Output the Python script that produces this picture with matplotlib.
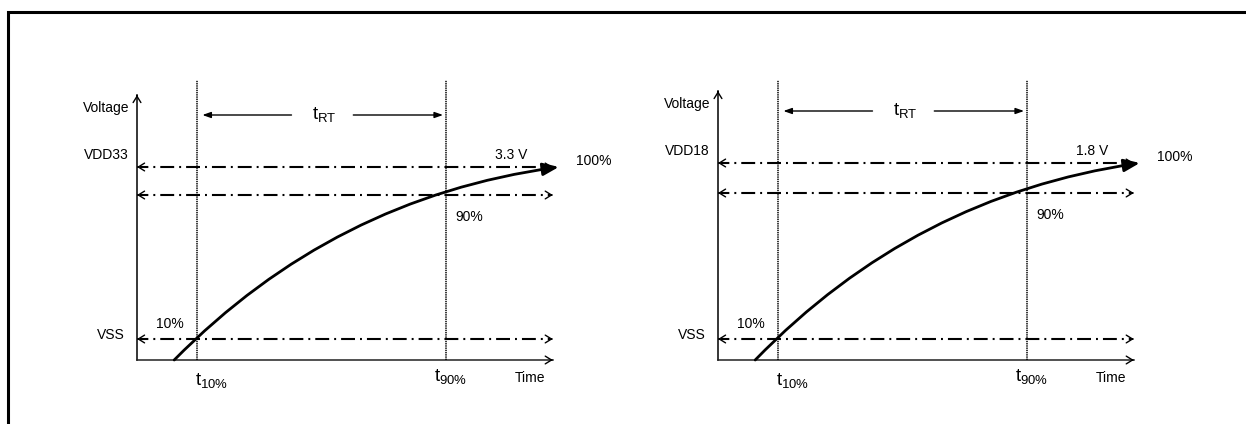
import numpy as np
import matplotlib
matplotlib.use('Agg')
import matplotlib.pyplot as plt
from matplotlib.patches import FancyArrowPatch
from matplotlib.lines import Line2D

plt.rcParams['font.family'] = ['Liberation Sans', 'DejaVu Sans']
plt.rcParams['mathtext.fontset'] = 'custom'
plt.rcParams['mathtext.rm'] = 'Liberation Sans'
plt.rcParams['mathtext.it'] = 'Liberation Sans:italic'
plt.rcParams['lines.scale_dashes'] = False

# ---- diagram values ----
RAILS = ['VDD33', 'VDD18']
RAIL_VOLTS = ['3.3 V', '1.8 V']
LEVEL_PCT = [10, 90, 100]            # VSS-side 10 %, 90 %, full rail
LEVEL_LABELS = ['10%', '90%', '100%']
T_MARKS = [1.0, 5.15]                # t10%, t90% (arbitrary time units)
T_LABELS = [r'$\mathrm{t}_{10\%}$', r'$\mathrm{t}_{90\%}$']
T_AXIS_END = 6.93
CURVE_T = [0.62, 7.03]               # rise curve: start / end time
CURVE_PCT = [0, 100]                 # rise curve: start / end level

# ---- layout (pixels) ----
W, H = 1246, 424
PX_PER_T = 60.0
PANEL_X0 = [137, 718]                               # where t = 0 sits
PANEL_LEVEL_PX = [[360, 339, 195, 167],             # 0,10,90,100 % rows
                  [360, 339, 193, 163]]
EXT_SLOPE = 1.8                                     # px per % outside knots


def make_scale(level_px):
    kp = np.array([0] + LEVEL_PCT, float)
    kx = -np.array(level_px, float)
    kp = np.r_[kp[0] - 1000, kp, kp[-1] + 1000]
    kx = np.r_[kx[0] - 1000 * EXT_SLOPE, kx, kx[-1] + 1000 * EXT_SLOPE]
    fwd = lambda p: np.interp(p, kp, kx)
    inv = lambda y: np.interp(y, kx, kp)
    return fwd, inv


def open_head(ax, x, y, dx, dy):
    ax.annotate('', xy=(x, y), xytext=(x - dx, y - dy),
                arrowprops=dict(arrowstyle='->,head_length=0.45,head_width=0.28',
                                lw=1.0, color='black', mutation_scale=10,
                                shrinkA=0, shrinkB=0))


def draw_panel(ax, rail, volts, x0, level_px):
    fwd, inv = make_scale(level_px)
    to_pct = lambda px: float(inv(-px))
    ax.set_position([0, 0, 1, 1])
    ax.set_yscale('function', functions=(fwd, inv))
    ax.set_xlim(-x0 / PX_PER_T, (W - x0) / PX_PER_T)
    ax.set_ylim(to_pct(H), to_pct(0))
    ax.axis('off')

    p_top = LEVEL_PCT[-1]
    t10, t90 = T_MARKS

    # axes
    y_axis_top = to_pct(level_px[-1] - 72)
    ax.plot([0, 0], [0, y_axis_top], color='black', lw=1.1)
    open_head(ax, 0, y_axis_top, 0, 0.5)
    ax.plot([0, T_AXIS_END], [0, 0], color='#222222', lw=1.1)
    open_head(ax, T_AXIS_END, 0, 0.02, 0)

    # dash-dot level lines with arrow heads at both ends
    for p in LEVEL_PCT:
        ax.plot([0.05, T_AXIS_END - 0.05], [p, p], color='black', lw=1.5,
                linestyle=(4, (10, 3.6, 1.4, 3.6)))
        open_head(ax, 0, p, -0.02, 0)
        open_head(ax, T_AXIS_END, p, 0.02, 0)

    # dotted time markers
    top_dot = to_pct(80)
    for t in T_MARKS:
        ax.plot([t, t], [0, top_dot], color='black', lw=1.1,
                linestyle=(0, (1, 0.6)))

    # rise curve
    curve = FancyArrowPatch((CURVE_T[0], CURVE_PCT[0]), (CURVE_T[1], CURVE_PCT[1]),
                            connectionstyle='arc3,rad=-0.17',
                            arrowstyle='-|>,head_length=0.5,head_width=0.2',
                            mutation_scale=19, lw=2.0, color='black',
                            shrinkA=0, shrinkB=0, zorder=5)
    ax.add_patch(curve)

    # t_RT span arrows
    y_rt = to_pct(level_px[-1] - 52)
    mid = (t10 + t90) / 2
    small = dict(arrowstyle='-|>,head_length=0.45,head_width=0.16', lw=1.0,
                 color='black', mutation_scale=11, shrinkA=0, shrinkB=0)
    ax.annotate('', xy=(t10 + 0.09, y_rt), xytext=(mid - 0.5, y_rt), arrowprops=small)
    ax.annotate('', xy=(t90 - 0.05, y_rt), xytext=(mid + 0.53, y_rt), arrowprops=small)
    ax.annotate(r'$\mathrm{t}_{\mathrm{RT}}$', xy=(mid, y_rt), xytext=(3, 1),
                textcoords='offset pixels', ha='center', va='center', fontsize=13.5)

    # labels
    fs = 10
    ax.annotate('Voltage', xy=(0, p_top), xytext=(-8, 59), textcoords='offset pixels',
                ha='right', va='center', fontsize=fs)
    ax.annotate(rail, xy=(0, p_top), xytext=(-8, 12), textcoords='offset pixels',
                ha='right', va='center', fontsize=fs)
    ax.annotate('VSS', xy=(0, LEVEL_PCT[0]), xytext=(-12, 4), textcoords='offset pixels',
                ha='right', va='center', fontsize=fs)
    ax.annotate(LEVEL_LABELS[0], xy=(t10, LEVEL_PCT[0]), xytext=(-27, 15),
                textcoords='offset pixels', ha='center', va='center', fontsize=fs)
    ax.annotate(LEVEL_LABELS[1], xy=(t90, LEVEL_PCT[1]), xytext=(9, -22),
                textcoords='offset pixels', ha='left', va='center', fontsize=fs)
    ax.annotate(volts, xy=(CURVE_T[1], p_top), xytext=(-48, 12),
                textcoords='offset pixels', ha='center', va='center', fontsize=fs)
    ax.annotate(LEVEL_LABELS[2], xy=(CURVE_T[1], p_top), xytext=(17, 6),
                textcoords='offset pixels', ha='left', va='center', fontsize=fs)
    ax.annotate('Time', xy=(T_AXIS_END, 0), xytext=(-23, -18),
                textcoords='offset pixels', ha='center', va='center', fontsize=fs)
    for t, lab, off in zip(T_MARKS, T_LABELS, [(15, -21), (5, -17)]):
        ax.annotate(lab, xy=(t, 0), xytext=off, textcoords='offset pixels',
                    ha='center', va='center', fontsize=13.5)


fig = plt.figure(figsize=(W / 100, H / 100), dpi=100)

# outer frame (only left and top edges are inside the picture)
fx, fy = 8 / W, 1 - 12 / H
fig.add_artist(Line2D([fx, fx, 1.01], [-0.01, fy, fy], color='black', lw=2.2,
                      solid_joinstyle='miter', transform=fig.transFigure))

for rail, volts, x0, lv in zip(RAILS, RAIL_VOLTS, PANEL_X0, PANEL_LEVEL_PX):
    ax = fig.add_axes([0, 0, 1, 1])
    draw_panel(ax, rail, volts, x0, lv)

fig.savefig('out.png', dpi=100)
plt.close(fig)
